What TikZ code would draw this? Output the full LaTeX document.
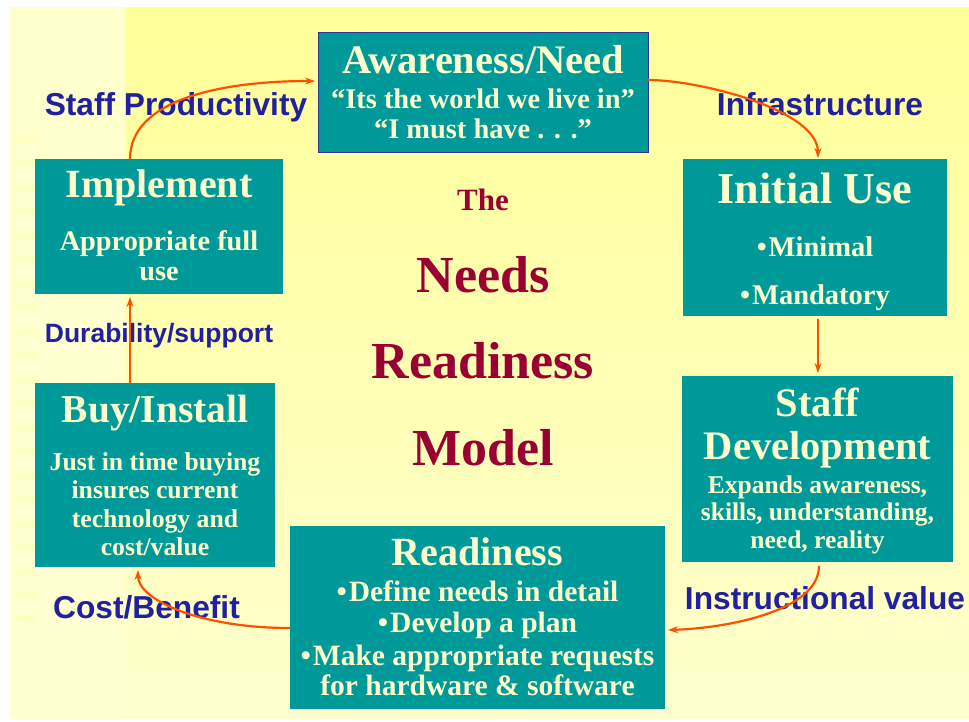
\documentclass[tikz,border=0pt]{standalone}
\usepackage{fontspec}
\setmainfont{Liberation Serif}
\newfontfamily\lblfont{Liberation Sans}
\usetikzlibrary{arrows.meta}
\definecolor{boxteal}{RGB}{0,153,153}
\definecolor{boxtext}{RGB}{255,255,204}
\definecolor{lblblue}{RGB}{32,32,160}
\definecolor{arrowc}{RGB}{255,80,0}
\definecolor{titlered}{RGB}{153,0,51}
\definecolor{awborder}{RGB}{51,51,153}
\definecolor{bgtop}{RGB}{255,255,153}
\definecolor{bgbot}{RGB}{255,255,206}
\definecolor{striptop}{RGB}{255,255,204}
\definecolor{stripbot}{RGB}{255,255,210}
\definecolor{colc}{RGB}{255,255,192}
\definecolor{sqc}{RGB}{255,255,212}
% a box of text lines with exact baselines
\newcommand\tbox[3]{\vbox to#2pt{\hsize=#1pt\offinterlineskip #3\vss}}
% \tline{distance from previous baseline}{font size}{text}
\newcommand\tline[3]{\kern#1pt\setbox0=\hbox to\hsize{\hss\fontsize{#2}{#2}\selectfont #3\hss}\ht0=0pt \dp0=0pt \box0}
\newcommand\bul{•\kern2pt}
\begin{document}
\begin{tikzpicture}[x=1pt,y=-1pt,
  box/.style={fill=boxteal, text=boxtext, font=\bfseries, inner sep=0pt, outer sep=0pt, anchor=north west},
  lbl/.style={text=lblblue, font=\lblfont\bfseries\fontsize{31.7}{32}\selectfont, inner sep=0pt, anchor=base},
  arr/.style={draw=arrowc, line width=2.2pt, -{Stealth[length=10pt,width=7pt]}}]
\useasboundingbox (0,0) rectangle (969,721);
\fill[white] (0,0) rectangle (969,721);
\shade[top color=bgtop, bottom color=bgbot] (10,7) rectangle (969,718);
\shade[top color=striptop, bottom color=stripbot] (10,7) rectangle (125,718);
\fill[colc] (17,137) rectangle (35,621);
\foreach \k in {0,...,19} \fill[sqc] (17,{143+24*\k}) rectangle (35,{159+24*\k});

% boxes
\node[box, draw=awborder, line width=1pt, minimum width=330pt, minimum height=120pt] (aw) at (318,32)
  {\tbox{330}{120}{\tline{41}{40.5}{Awareness/Need}\tline{35}{28.4}{“Its the world we live in”}\tline{30}{28.4}{“I must have . . .”}}};
\node[box, minimum width=264pt, minimum height=157pt] (iu) at (683,159)
  {\tbox{264}{157}{\tline{44}{44}{Initial Use}\tline{53}{28.5}{\bul Minimal}\tline{48}{28.5}{\bul Mandatory}}};
\node[box, minimum width=271pt, minimum height=186pt] (sd) at (682,376)
  {\tbox{271}{186}{\tline{40}{40.5}{Staff}\tline{43}{40.5}{Development}\tline{34}{25.5}{Expands awareness,}\tline{27}{25.5}{skills, understanding,}\tline{28}{25.5}{need, reality}}};
\node[box, minimum width=375pt, minimum height=183pt] (rd) at (290,526)
  {\tbox{375}{183}{\tline{39}{40}{Readiness}\tline{36}{29.5}{\bul Define needs in detail}\tline{31}{29.5}{\bul Develop a plan}\tline{33}{29.5}{\bul Make appropriate requests}\tline{30}{29.5}{for hardware \& software}}};
\node[box, minimum width=240pt, minimum height=184pt] (bi) at (35,383)
  {\tbox{240}{184}{\tline{39}{39.5}{Buy/Install}\tline{48}{25.7}{Just in time buying}\tline{28}{25.7}{insures current}\tline{29}{25.7}{technology and}\tline{28}{25.7}{cost/value}}};
\node[box, minimum width=248pt, minimum height=135pt] (im) at (35,159)
  {\tbox{248}{135}{\tline{38}{40}{Implement}\tline{53}{28.3}{Appropriate full}\tline{30}{28.3}{use}}};

% title
\node[text=titlered, font=\bfseries, inner sep=0pt, anchor=north] (title) at (483,170)
  {\tbox{300}{300}{\tline{40}{31}{The}\tline{82}{52}{Needs}\tline{86}{52}{Readiness}\tline{87}{52}{Model}}};

% connector labels
\node[lbl] (lsp) at (176,115) {Staff Productivity};
\node[lbl] (linf) at (820,115) {Infrastructure};
\node[lbl, font=\lblfont\bfseries\fontsize{26.5}{27}\selectfont] (ldur) at (159,342) {Durability/support};
\node[lbl] (lcb) at (146.5,618) {Cost/Benefit};
\node[lbl] (liv) at (825,609) {Instructional value};

% connectors
\draw[arr] ([xshift=-29pt]im.north) .. controls (130,100) and (220,81) .. ([xshift=-3pt,yshift=11pt]aw.west);
\draw[arr] ([yshift=12pt]aw.east) .. controls (700,80) and (818,110) .. ([xshift=3pt,yshift=1pt]iu.north);
\draw[arr] ([xshift=3pt,yshift=-3pt]iu.south) -- ([xshift=0.5pt,yshift=3pt]sd.north);
\draw[arr] ([xshift=1.5pt,yshift=-4pt]sd.south) .. controls (819,610) and (730,628) .. ([xshift=3pt,yshift=-12.5pt]rd.east);
\draw[arr] ([yshift=-10.5pt]rd.west) .. controls (200,628) and (138,600) .. ([xshift=-17pt,yshift=-3pt]bi.south);
\draw[arr] ([xshift=-25pt]bi.north) -- ([xshift=-29pt,yshift=-3pt]im.south);
\end{tikzpicture}
\end{document}
